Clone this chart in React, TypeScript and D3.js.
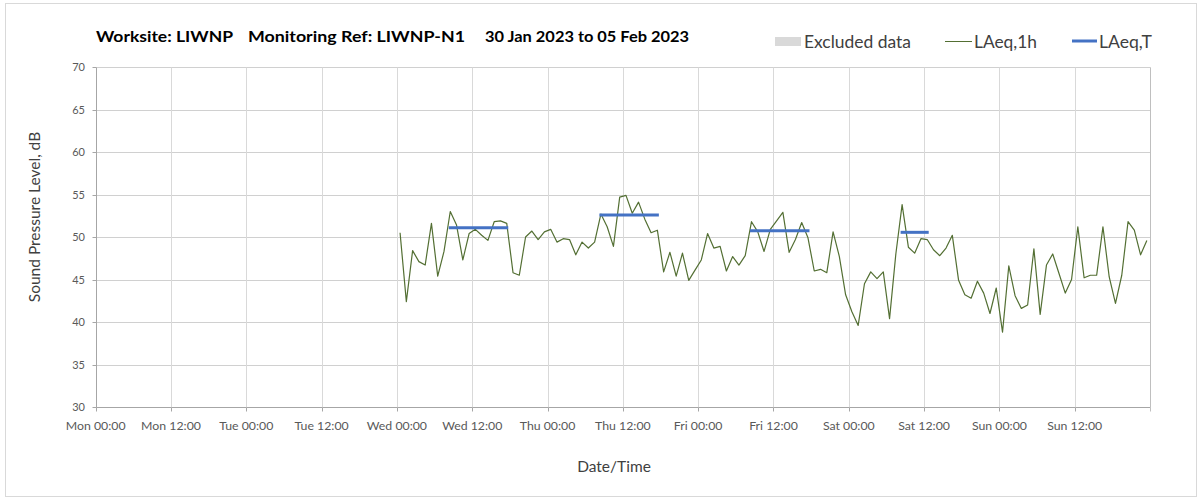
import React from "react";
import * as d3 from "d3";

// ---- data ----
const titleParts = ["Worksite: LIWNP", "Monitoring Ref: LIWNP-N1", "30 Jan 2023 to 05 Feb 2023"];
const xTickLabels = [
  "Mon 00:00", "Mon 12:00", "Tue 00:00", "Tue 12:00", "Wed 00:00", "Wed 12:00", "Thu 00:00",
  "Thu 12:00", "Fri 00:00", "Fri 12:00", "Sat 00:00", "Sat 12:00", "Sun 00:00", "Sun 12:00",
];
const yTicks = [30, 35, 40, 45, 50, 55, 60, 65, 70];
const firstHour = new Date(2023, 1, 1, 0, 30); // Wed 01 Feb 00:30
const laeq1h = [
  50.5, 42.4, 48.4, 47.1, 46.7, 51.6, 45.4, 48.3, 53.0, 51.4, 47.3, 50.4, 50.9, 50.2, 49.6, 51.8,
  51.9, 51.6, 45.8, 45.5, 50.0, 50.7, 49.7, 50.6, 50.9, 49.4, 49.8, 49.7, 47.9, 49.4, 48.7, 49.4,
  52.7, 51.2, 48.9, 54.7, 54.9, 52.8, 54.1, 52.1, 50.5, 50.8, 45.9, 48.2, 45.4, 48.1, 44.9, 46.1,
  47.3, 50.4, 48.7, 48.9, 46.0, 47.7, 46.7, 47.8, 51.8, 50.6, 48.3, 50.9, 51.9, 52.9, 48.2, 49.7,
  51.7, 49.9, 46.0, 46.2, 45.8, 50.6, 47.7, 43.2, 41.2, 39.6, 44.5, 45.9, 45.1, 45.9, 40.4, 48.0,
  53.8, 48.8, 48.1, 49.8, 49.7, 48.5, 47.8, 48.7, 50.2, 44.9, 43.2, 42.8, 44.8, 43.4, 41.0, 44.0,
  38.8, 46.6, 43.1, 41.6, 42.0, 48.6, 40.9, 46.7, 48.0, 45.7, 43.4, 45.0, 51.2, 45.2, 45.5, 45.5,
  51.2, 45.3, 42.2, 45.5, 51.8, 50.8, 47.9, 49.6,
];
const periodStarts = [
  new Date(2023, 1, 1, 8, 30), new Date(2023, 1, 2, 8, 30),
  new Date(2023, 1, 3, 8, 30), new Date(2023, 1, 4, 8, 30),
];
const periodEnds = [
  new Date(2023, 1, 1, 17, 30), new Date(2023, 1, 2, 17, 30),
  new Date(2023, 1, 3, 17, 30), new Date(2023, 1, 4, 12, 30),
];
const laeqT = [51.1, 52.6, 50.75, 50.55];

const W = 1203;
const H = 502;
const FONT = "Lato, 'Open Sans', sans-serif";

export default function App() {
  const x = d3.scaleTime()
    .domain([new Date(2023, 0, 30), new Date(2023, 1, 6)])
    .range([95.7, 1150]);
  const y = d3.scaleLinear().domain([30, 70]).range([407, 67]);
  const ticks = x.ticks(d3.timeHour.every(12));
  const crisp = (v: number) => Math.round(v) + 0.5;

  const pts = laeq1h.map((v, i) => ({ t: d3.timeHour.offset(firstHour, i), v }));
  const line = d3.line<{ t: Date; v: number }>().x((d) => x(d.t)).y((d) => y(d.v));

  const x0 = crisp(x.range()[0]);
  const x1 = crisp(x.range()[1]);
  const yBottom = crisp(y(30));

  return (
    <svg width={W} height={H} style={{ position: "absolute", left: 0, top: 0, background: "#fff" }}
      fontFamily={FONT}>
      <rect x={5.5} y={3.5} width={1191} height={493} fill="#fff" stroke="#d9d9d9" />

      {/* title */}
      <g fontWeight="bold" fontSize={14.5} fill="#000">
        <text x={96} y={42} textLength={137} lengthAdjust="spacingAndGlyphs">{titleParts[0]}</text>
        <text x={248} y={42} textLength={217} lengthAdjust="spacingAndGlyphs">{titleParts[1]}</text>
        <text x={485} y={42} textLength={204} lengthAdjust="spacingAndGlyphs">{titleParts[2]}</text>
      </g>

      {/* legend */}
      <g fontSize={17} fill="#404040">
        <rect x={775} y={37} width={26} height={9} fill="#d9d9d9" />
        <text x={804} y={47.5} textLength={107} lengthAdjust="spacingAndGlyphs">Excluded data</text>
        <line x1={945} x2={972} y1={41.5} y2={41.5} stroke="#536f33" strokeWidth={1} />
        <text x={974} y={47.5} textLength={63} lengthAdjust="spacingAndGlyphs">LAeq,1h</text>
        <line x1={1072} x2={1097} y1={41} y2={41} stroke="#4472c4" strokeWidth={3} />
        <text x={1099} y={47.5} textLength={53} lengthAdjust="spacingAndGlyphs">LAeq,T</text>
      </g>

      {/* gridlines */}
      {yTicks.map((v) => (
        <line key={"gy" + v} x1={x0} x2={x1} y1={crisp(y(v))} y2={crisp(y(v))}
          stroke={v === 30 ? "#a6a6a6" : "#d0d0d0"} />
      ))}
      {ticks.map((t, i) => (
        <line key={"gx" + i} x1={crisp(x(t))} x2={crisp(x(t))} y1={crisp(y(70))} y2={yBottom}
          stroke={i === 0 ? "#a6a6a6" : i === ticks.length - 1 ? "#bfbfbf" : "#d9d9d9"} />
      ))}

      {/* y axis ticks + labels */}
      {yTicks.map((v) => (
        <g key={"ty" + v}>
          <line x1={x0 - 4} x2={x0} y1={crisp(y(v))} y2={crisp(y(v))} stroke="#a6a6a6" />
          <text x={85} y={y(v) + 4} textAnchor="end" fontSize={11} fill="#595959">{v}</text>
        </g>
      ))}

      {/* x axis ticks + labels */}
      {ticks.map((t, i) => (
        <g key={"tx" + i}>
          <line x1={crisp(x(t))} x2={crisp(x(t))} y1={yBottom} y2={yBottom + 4}
            stroke={i === ticks.length - 1 ? "#bfbfbf" : "#a6a6a6"} />
          {i < xTickLabels.length && (
            <text x={x(t)} y={430} textAnchor="middle" fontSize={12.3} fill="#595959">{xTickLabels[i]}</text>
          )}
        </g>
      ))}

      {/* axis titles */}
      <text transform="translate(40,217) rotate(-90)" textAnchor="middle" fontSize={15.5} fill="#404040">
        Sound Pressure Level, dB
      </text>
      <text x={614} y={472} textAnchor="middle" fontSize={15.5} fill="#404040">Date/Time</text>

      {/* LAeq,1h */}
      <path d={line(pts) || ""} fill="none" stroke="#536f33" strokeWidth={1.2} strokeLinejoin="round" />

      {/* LAeq,T */}
      {laeqT.map((v, i) => (
        <line key={"p" + i} x1={x(periodStarts[i])} x2={x(periodEnds[i])} y1={y(v)} y2={y(v)}
          stroke="#4472c4" strokeWidth={3} strokeLinecap="square" />
      ))}
    </svg>
  );
}
